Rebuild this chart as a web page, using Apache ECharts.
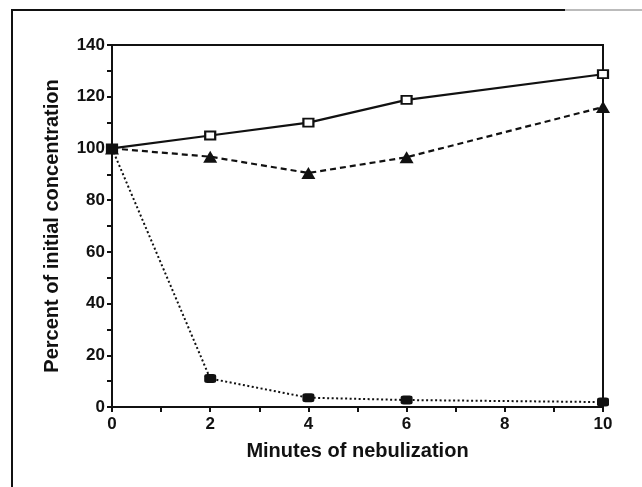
<!DOCTYPE html>
<html>
<head>
<meta charset="utf-8">
<script src="https://cdn.jsdelivr.net/npm/echarts@6/dist/echarts.min.js"></script>
<style>
  html, body { margin: 0; padding: 0; background: #fff; }
  #main { width: 642px; height: 487px; }
</style>
</head>
<body>
<div id="main"></div>
<script>
var minutes = [0, 2, 4, 6, 10];
var openSquare = [100, 105, 110, 118.8, 128.7];
var triangle = [100, 96.8, 90.5, 96.6, 116];
var filledSquare = [100, 11, 3.6, 2.7, 1.9];

function pairs(ys) {
    return minutes.map(function (x, i) { return [x, ys[i]]; });
}

var dom = document.getElementById('main');
var myChart = echarts.init(dom);
var ink = '#111';
var font = '"Liberation Sans", Arial, sans-serif';

option = {
    animation: false,
    backgroundColor: '#fff',
    grid: {
        left: 112, right: 39, top: 45, bottom: 80,
        show: true, borderColor: ink, borderWidth: 2
    },
    graphic: [
        {
            type: 'polyline',
            shape: { points: [[12, 487], [12, 10], [565, 10]] },
            style: { stroke: ink, lineWidth: 2, fill: null }
        },
        {
            type: 'line',
            shape: { x1: 565, y1: 10, x2: 642, y2: 10 },
            style: { stroke: '#bbb', lineWidth: 2 }
        }
    ],
    xAxis: {
        type: 'value',
        min: 0, max: 10, interval: 1,
        name: 'Minutes of nebulization',
        nameLocation: 'middle',
        nameGap: 34,
        nameTextStyle: { color: ink, fontSize: 20, fontWeight: 'bold', fontFamily: font },
        axisLine: { lineStyle: { color: ink, width: 2 } },
        axisTick: { inside: false, length: 5, lineStyle: { color: ink, width: 2 } },
        axisLabel: {
            color: ink, fontSize: 17, fontWeight: 'bold', fontFamily: font, margin: 9,
            formatter: function (v) { return v % 2 === 0 ? v : ''; }
        },
        splitLine: { show: false }
    },
    yAxis: {
        type: 'value',
        min: 0, max: 140, interval: 10,
        name: 'Percent of initial concentration',
        nameLocation: 'middle',
        nameGap: 50,
        nameTextStyle: { color: ink, fontSize: 20, fontWeight: 'bold', fontFamily: font },
        axisLine: { lineStyle: { color: ink, width: 2 } },
        axisTick: { inside: false, length: 5, lineStyle: { color: ink, width: 2 } },
        axisLabel: {
            color: ink, fontSize: 17, fontWeight: 'bold', fontFamily: font, margin: 7,
            formatter: function (v) { return v % 20 === 0 ? v : ''; }
        },
        splitLine: { show: false }
    },
    series: [
        {
            name: 'open',
            type: 'line',
            data: pairs(openSquare),
            symbol: 'rect',
            symbolSize: [10, 8],
            itemStyle: { color: '#fff', borderColor: ink, borderWidth: 2 },
            lineStyle: { color: ink, width: 2.2, type: 'solid' },
            z: 2
        },
        {
            name: 'triangle',
            type: 'line',
            data: pairs(triangle),
            symbol: 'triangle',
            symbolSize: [14, 12],
            itemStyle: { color: ink, borderWidth: 0 },
            lineStyle: { color: ink, width: 2.2, type: [6, 4] },
            z: 3
        },
        {
            name: 'filled',
            type: 'line',
            data: pairs(filledSquare),
            symbol: 'roundRect',
            symbolSize: [12, 9],
            itemStyle: { color: ink, borderWidth: 0 },
            lineStyle: { color: ink, width: 2, type: [2, 2.5] },
            z: 4
        }
    ]
};
myChart.setOption(option);
window.onresize = myChart.resize;
</script>
</body>
</html>
